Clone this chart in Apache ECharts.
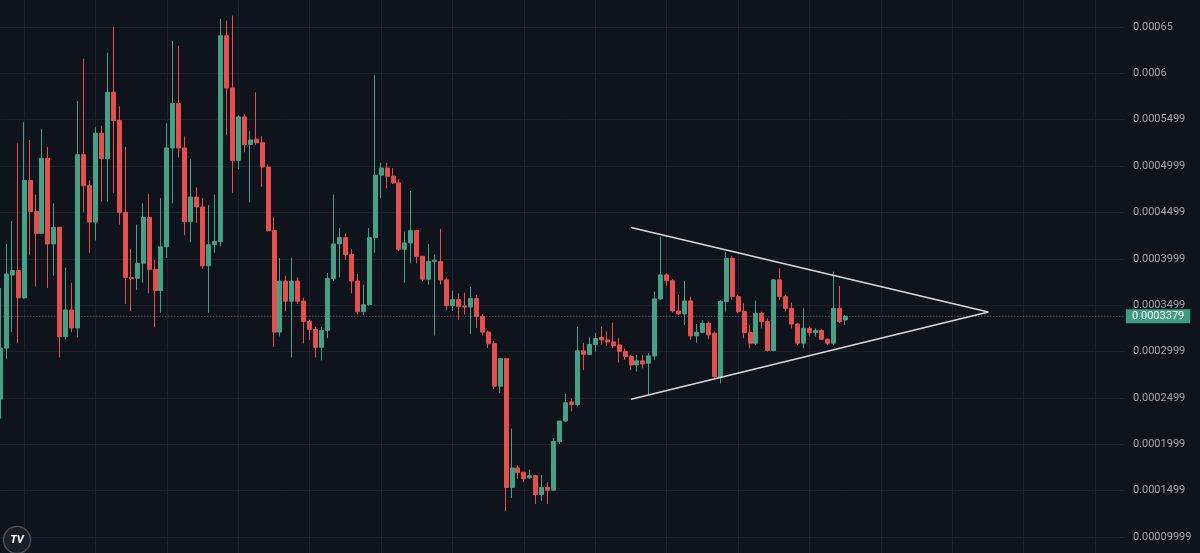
<!DOCTYPE html>
<html>
<head>
<meta charset="utf-8">
<style>
  html, body { margin: 0; padding: 0; background: #0f131c; }
  #chart { width: 1200px; height: 553px; }
</style>
<script src="https://cdn.jsdelivr.net/npm/echarts@6/dist/echarts.min.js"></script>
</head>
<body>
<div id="chart"></div>
<script>
// ---- data (prices) ----
const opens = [
  2.486e-4,3.037e-4,3.825e-4,3.874e-4,3.578e-4,4.845e-4,4.510e-4,4.274e-4,5.084e-4,4.160e-4,
  4.339e-4,3.159e-4,3.448e-4,3.254e-4,5.123e-4,4.788e-4,4.396e-4,5.355e-4,5.081e-4,5.796e-4,
  5.492e-4,4.502e-4,3.798e-4,3.791e-4,3.951e-4,4.445e-4,3.886e-4,3.658e-4,4.129e-4,5.195e-4,
  5.674e-4,5.195e-4,4.400e-4,4.666e-4,4.559e-4,3.924e-4,4.152e-4,4.186e-4,6.405e-4,5.842e-4,
  5.062e-4,5.530e-4,5.233e-4,5.290e-4,5.252e-4,4.989e-4,4.304e-4,3.209e-4,3.760e-4,3.543e-4,
  3.760e-4,3.543e-4,3.323e-4,3.239e-4,3.045e-4,3.228e-4,3.787e-4,4.160e-4,4.228e-4,4.046e-4,
  3.760e-4,3.429e-4,3.505e-4,4.228e-4,4.902e-4,4.978e-4,4.890e-4,4.818e-4,4.103e-4,4.171e-4,
  4.304e-4,4.027e-4,3.779e-4,3.970e-4,3.970e-4,3.772e-4,3.494e-4,3.559e-4,3.490e-4,3.479e-4,
  3.570e-4,3.380e-4,3.209e-4,3.083e-4,2.626e-4,2.923e-4,1.534e-4,1.744e-4,1.698e-4,1.637e-4,
  1.660e-4,1.458e-4,1.534e-4,1.504e-4,2.029e-4,2.250e-4,2.455e-4,2.428e-4,3.007e-4,2.969e-4,
  3.075e-4,3.150e-4,3.125e-4,3.103e-4,3.071e-4,2.999e-4,2.945e-4,2.855e-4,2.899e-4,2.873e-4,
  2.952e-4,3.567e-4,3.826e-4,3.764e-4,3.437e-4,3.405e-4,3.545e-4,3.168e-4,3.207e-4,3.304e-4,
  3.197e-4,2.729e-4,3.538e-4,4.005e-4,3.592e-4,3.430e-4,3.204e-4,3.089e-4,3.412e-4,3.322e-4,
  3.010e-4,3.772e-4,3.592e-4,3.466e-4,3.297e-4,3.089e-4,3.250e-4,3.204e-4,3.225e-4,3.132e-4,
  3.089e-4,3.466e-4,3.340e-4
];
const closes = [
  3.037e-4,3.836e-4,3.874e-4,3.578e-4,4.845e-4,4.510e-4,4.274e-4,5.084e-4,4.160e-4,4.339e-4,
  3.159e-4,3.448e-4,3.254e-4,5.123e-4,4.788e-4,4.396e-4,5.355e-4,5.081e-4,5.796e-4,5.492e-4,
  4.502e-4,3.798e-4,3.787e-4,3.951e-4,4.445e-4,3.886e-4,3.658e-4,4.129e-4,5.195e-4,5.674e-4,
  5.195e-4,4.400e-4,4.666e-4,4.559e-4,3.924e-4,4.152e-4,4.186e-4,6.405e-4,5.842e-4,5.062e-4,
  5.530e-4,5.233e-4,5.282e-4,5.252e-4,4.989e-4,4.304e-4,3.209e-4,3.760e-4,3.543e-4,3.760e-4,
  3.543e-4,3.323e-4,3.239e-4,3.045e-4,3.228e-4,3.787e-4,4.160e-4,4.228e-4,4.046e-4,3.760e-4,
  3.429e-4,3.505e-4,4.228e-4,4.902e-4,4.978e-4,4.890e-4,4.818e-4,4.103e-4,4.171e-4,4.304e-4,
  4.027e-4,3.779e-4,3.970e-4,3.985e-4,3.772e-4,3.494e-4,3.559e-4,3.483e-4,3.479e-4,3.570e-4,
  3.380e-4,3.209e-4,3.083e-4,2.626e-4,2.923e-4,1.534e-4,1.744e-4,1.694e-4,1.629e-4,1.660e-4,
  1.458e-4,1.534e-4,1.504e-4,2.029e-4,2.250e-4,2.447e-4,2.428e-4,3.007e-4,2.969e-4,3.075e-4,
  3.140e-4,3.125e-4,3.103e-4,3.060e-4,2.999e-4,2.945e-4,2.855e-4,2.899e-4,2.866e-4,2.952e-4,
  3.567e-4,3.826e-4,3.764e-4,3.437e-4,3.405e-4,3.545e-4,3.168e-4,3.207e-4,3.304e-4,3.179e-4,
  2.729e-4,3.538e-4,4.005e-4,3.592e-4,3.430e-4,3.204e-4,3.089e-4,3.412e-4,3.322e-4,3.010e-4,
  3.772e-4,3.592e-4,3.466e-4,3.297e-4,3.089e-4,3.250e-4,3.204e-4,3.225e-4,3.132e-4,3.089e-4,
  3.466e-4,3.322e-4,3.379e-4
];
const lows = [
  2.276e-4,2.923e-4,3.209e-4,3.094e-4,3.570e-4,4.046e-4,3.703e-4,4.270e-4,3.684e-4,3.817e-4,
  2.935e-4,3.132e-4,3.209e-4,3.151e-4,4.502e-4,4.065e-4,4.198e-4,4.616e-4,4.616e-4,4.712e-4,
  4.369e-4,3.513e-4,3.437e-4,3.665e-4,3.741e-4,3.627e-4,3.266e-4,3.418e-4,4.008e-4,4.597e-4,
  5.092e-4,4.255e-4,4.179e-4,4.388e-4,3.893e-4,3.418e-4,4.065e-4,4.133e-4,5.339e-4,4.712e-4,
  4.967e-4,5.149e-4,4.609e-4,5.225e-4,4.776e-4,4.293e-4,3.049e-4,3.163e-4,3.437e-4,2.935e-4,
  3.513e-4,3.087e-4,3.125e-4,2.935e-4,2.904e-4,3.144e-4,3.760e-4,3.798e-4,3.989e-4,3.627e-4,
  3.399e-4,3.391e-4,3.494e-4,4.065e-4,4.654e-4,4.761e-4,4.807e-4,4.084e-4,3.741e-4,3.951e-4,
  3.951e-4,3.760e-4,3.722e-4,3.170e-4,3.722e-4,3.444e-4,3.437e-4,3.342e-4,3.399e-4,3.189e-4,
  3.254e-4,3.170e-4,3.037e-4,2.592e-4,2.554e-4,1.279e-4,1.420e-4,1.629e-4,1.591e-4,1.629e-4,
  1.355e-4,1.390e-4,1.355e-4,1.496e-4,2.000e-4,2.240e-4,2.352e-4,2.409e-4,2.798e-4,2.960e-4,
  2.999e-4,3.071e-4,3.060e-4,3.035e-4,2.881e-4,2.909e-4,2.801e-4,2.783e-4,2.819e-4,2.532e-4,
  2.910e-4,3.556e-4,3.707e-4,3.419e-4,3.394e-4,3.286e-4,3.125e-4,3.096e-4,3.197e-4,3.132e-4,
  2.700e-4,2.657e-4,3.430e-4,3.556e-4,3.412e-4,3.143e-4,3.035e-4,3.071e-4,3.250e-4,2.999e-4,
  2.999e-4,3.556e-4,3.430e-4,3.250e-4,3.071e-4,3.035e-4,3.161e-4,3.161e-4,3.125e-4,3.071e-4,
  3.071e-4,3.304e-4,3.286e-4
];
const highs = [
  3.684e-4,4.160e-4,4.407e-4,5.244e-4,5.473e-4,5.282e-4,4.693e-4,5.396e-4,5.206e-4,4.597e-4,
  4.345e-4,3.905e-4,3.741e-4,5.701e-4,6.158e-4,4.845e-4,5.416e-4,5.435e-4,6.222e-4,6.500e-4,
  5.644e-4,5.206e-4,4.103e-4,4.369e-4,4.597e-4,4.700e-4,3.989e-4,4.654e-4,5.461e-4,6.348e-4,
  6.298e-4,5.320e-4,5.073e-4,4.769e-4,4.654e-4,4.578e-4,4.693e-4,6.588e-4,6.569e-4,6.622e-4,
  5.550e-4,5.560e-4,5.377e-4,5.796e-4,5.320e-4,5.016e-4,4.445e-4,4.008e-4,3.817e-4,4.008e-4,
  3.800e-4,3.580e-4,3.342e-4,3.266e-4,3.266e-4,3.848e-4,4.693e-4,4.331e-4,4.274e-4,4.103e-4,
  3.836e-4,3.722e-4,4.331e-4,5.979e-4,5.035e-4,5.035e-4,4.978e-4,4.864e-4,4.293e-4,4.731e-4,
  4.310e-4,4.030e-4,4.160e-4,4.046e-4,4.323e-4,3.798e-4,3.658e-4,3.627e-4,3.635e-4,3.696e-4,
  3.608e-4,3.406e-4,3.228e-4,3.113e-4,2.930e-4,2.930e-4,2.170e-4,1.770e-4,1.700e-4,1.725e-4,
  1.667e-4,1.667e-4,1.591e-4,2.067e-4,2.250e-4,2.543e-4,2.493e-4,3.266e-4,3.094e-4,3.151e-4,
  3.201e-4,3.269e-4,3.215e-4,3.312e-4,3.143e-4,3.035e-4,2.963e-4,2.963e-4,2.963e-4,2.981e-4,
  3.646e-4,4.239e-4,3.844e-4,3.779e-4,3.610e-4,3.761e-4,3.592e-4,3.297e-4,3.340e-4,3.322e-4,
  3.215e-4,3.556e-4,4.077e-4,4.030e-4,3.610e-4,3.520e-4,3.286e-4,3.549e-4,3.430e-4,3.358e-4,
  3.779e-4,3.897e-4,3.607e-4,3.527e-4,3.304e-4,3.466e-4,3.268e-4,3.250e-4,3.240e-4,3.140e-4,
  3.861e-4,3.707e-4,3.394e-4
];
// y axis tick values and the labels shown for them
const tickValues = [1.0e-4,1.5e-4,2.0e-4,2.5e-4,3.0e-4,3.5e-4,4.0e-4,4.5e-4,5.0e-4,5.5e-4,6.0e-4,6.5e-4];
const tickLabels = ['0.00009999','0.0001499','0.0001999','0.0002499','0.0002999','0.0003499',
                    '0.0003999','0.0004499','0.0004999','0.0005499','0.0006','0.00065'];
const lastPrice = 3.379e-4;
const lastPriceLabel = '0.0003379';
// symmetrical triangle drawing: [bar index, price]
const trianglePoints = [[106.0, 4.338e-4], [166.05, 3.427e-4], [106.0, 2.486e-4]];
const slotCount = 190; // bar slots visible on the time axis (incl. empty future space)

// ---- build ----
const categories = Array.from({length: slotCount}, (_, i) => String(i));
const ohlc = opens.map((o, i) => [o, closes[i], lows[i], highs[i]]);
const priceLine = [[0, lastPrice], [slotCount - 1, lastPrice]];

const UP = '#45a086';
const DOWN = '#e5504f';
const GRID = '#1b202b';

const chart = echarts.init(document.getElementById('chart'), null, {renderer: 'canvas'});
chart.setOption({
  backgroundColor: '#0f131c',
  animation: false,
  grid: { left: 0.3, right: 75.1, top: -19.4, height: 602.7, outerBoundsMode: 'none', containLabel: false },
  xAxis: [
    {
      type: 'category', data: categories, boundaryGap: false,
      axisLine: {show: false}, axisTick: {show: false}, axisLabel: {show: false},
      splitLine: { show: true, interval: (idx) => idx % 12 === 4, lineStyle: {color: GRID, width: 1} }
    },
    { type: 'value', min: 0, max: slotCount - 1, show: false }
  ],
  yAxis: {
    type: 'value', position: 'right', min: 0.5e-4, max: 7e-4, interval: 0.5e-4, scale: true,
    axisLine: {show: false}, axisTick: {show: false},
    splitLine: { show: true, lineStyle: {color: GRID, width: 1} },
    axisLabel: {
      margin: 8, align: 'left', color: '#a3a6af', fontSize: 11, fontFamily: 'Roboto',
      formatter: (v) => {
        const idx = tickValues.findIndex(t => Math.abs(t - v) < 1e-9);
        return idx >= 0 ? tickLabels[idx] : '';
      }
    }
  },
  series: [
    {
      type: 'line', xAxisIndex: 1, data: priceLine, symbol: 'none', silent: true, z: 1,
      lineStyle: { color: '#6f7482', type: [1, 2], width: 1 },
      endLabel: {
        show: true, formatter: lastPriceLabel, distance: 1,
        backgroundColor: '#3f9b82', color: '#ffffff', fontSize: 11, fontFamily: 'Roboto',
        padding: [2, 6, 1, 6]
      }
    },
    {
      type: 'candlestick', data: ohlc, barWidth: 4.5, z: 3,
      itemStyle: { color: UP, color0: DOWN, borderColor: UP, borderColor0: DOWN, borderWidth: 1 }
    },
    {
      type: 'line', xAxisIndex: 1, data: trianglePoints, symbol: 'none', silent: true,
      lineStyle: { color: '#d9dadd', width: 1.5 }, z: 5
    }
  ],
  graphic: [
    { type: 'circle', shape: {cx: 17, cy: 540, r: 13.5},
      style: {fill: '#1b1f29', stroke: '#4a4e59', lineWidth: 1.5}, z: 100 },
    { type: 'text', x: 17, y: 540,
      style: {text: 'TV', fill: '#ffffff', font: 'bold italic 11px Roboto', align: 'center', verticalAlign: 'middle'}, z: 101 }
  ]
});
</script>
</body>
</html>
